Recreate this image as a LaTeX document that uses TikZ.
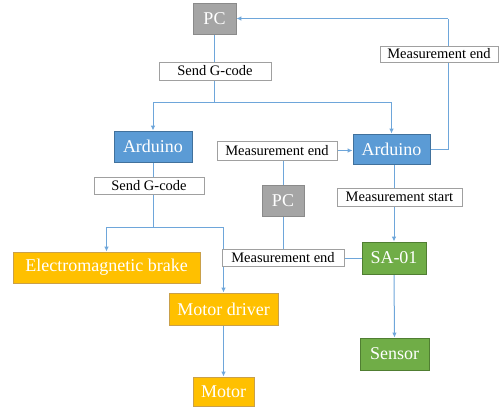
\documentclass[tikz,border=0pt]{standalone}
\usepackage{fontspec}
\setmainfont{Liberation Serif}
\usetikzlibrary{arrows.meta,backgrounds}
\definecolor{pcgray}{HTML}{A5A5A5}
\definecolor{pcborder}{HTML}{8A8A8A}
\definecolor{ardblue}{HTML}{5B9BD5}
\definecolor{ardborder}{HTML}{41719C}
\definecolor{orng}{HTML}{FFC000}
\definecolor{orngborder}{HTML}{C9A04A}
\definecolor{grn}{HTML}{70AD47}
\definecolor{grnborder}{HTML}{507E32}
\definecolor{linecol}{HTML}{6EA6DA}
\definecolor{lblborder}{HTML}{A0A0A0}
\tikzset{
  box/.style={draw, line width=0.8pt, inner sep=0pt, text=white, font=\rmfamily\fontsize{18}{20}\selectfont},
  pcbox/.style={box, fill=pcgray, draw=pcborder},
  ardbox/.style={box, fill=ardblue, draw=ardborder},
  orbox/.style={box, fill=orng, draw=orngborder},
  grbox/.style={box, fill=grn, draw=grnborder},
  lbl/.style={draw=lblborder, fill=white, line width=0.7pt, inner sep=0pt, text=black, font=\rmfamily\fontsize{14.5}{16}\selectfont},
  conn/.style={draw=linecol, line width=1pt},
  arr/.style={conn, -{Latex[length=5pt,width=4.5pt]}}
}
\begin{document}
\begin{tikzpicture}[x=1pt,y=1pt]
\useasboundingbox (0,0) rectangle (499,-408);
\node[pcbox, minimum width=43pt, minimum height=31pt] (pc1) at (214.5,-18.5) {PC};
\node[lbl, minimum width=112pt, minimum height=18pt] (lbl1) at (215,-71) {Send G-code};
\node[ardbox, minimum width=78pt, minimum height=31pt] (ard1) at (153,-146.5) {Arduino};
\node[ardbox, minimum width=77pt, minimum height=30pt] (ard2) at (391.5,-149) {Arduino};
\node[lbl, minimum width=118pt, minimum height=16pt] (lbl2) at (439,-54) {Measurement end};
\node[lbl, minimum width=120pt, minimum height=19pt] (lbl3) at (277,-150.5) {Measurement end};
\node[pcbox, minimum width=42pt, minimum height=31pt] (pc2) at (283,-200.5) {PC};
\node[lbl, minimum width=110pt, minimum height=17pt] (lbl4) at (149,-185.5) {Send G-code};
\node[orbox, minimum width=187pt, minimum height=31pt] (brake) at (106.5,-267.5) {Electromagnetic brake};
\node[orbox, minimum width=109pt, minimum height=32pt] (driver) at (223.5,-309) {Motor driver};
\node[orbox, minimum width=61pt, minimum height=29pt] (motor) at (223.5,-391.5) {Motor};
\node[lbl, minimum width=122pt, minimum height=17pt] (lbl5) at (283,-257.5) {Measurement end};
\node[lbl, minimum width=125pt, minimum height=18pt] (lbl6) at (399.5,-197) {Measurement start};
\node[grbox, minimum width=64pt, minimum height=32pt] (sa) at (394,-258) {SA-01};
\node[grbox, minimum width=69pt, minimum height=32pt] (sensor) at (394.5,-354) {Sensor};
\coordinate (j1) at (214.5,-102);
\coordinate (j2) at (153,-227);
\coordinate (k1) at (448,-149);
\coordinate (k2) at (448,-18.5);
\begin{scope}[on background layer]
\draw[conn] (pc1.south) -- (j1);
\draw[arr] (j1) -| (ard1.north);
\draw[arr] (j1) -| (ard2.north);
\draw[conn] (ard2.east) -- (k1) -- (k2);
\draw[arr] (k2) -- (pc1.east);
\draw[arr] (lbl3.east) -- (lbl3.east -| ard2.west);
\draw[conn] (pc2.north) -- (pc2.north |- lbl3.south);
\draw[conn] (pc2.south) -- (lbl5.north);
\draw[conn] (sa.west) -- (sa.west -| lbl5.east);
\draw[arr] (sa.north |- ard2.south) -- (sa.north);
\draw[arr] (sa.south) -- (sensor.north);
\draw[conn] (ard1.south) -- (j2);
\draw[arr] (j2) -| (brake.north);
\draw[arr] (j2) -| (driver.north);
\draw[arr] (driver.south) -- (motor.north);
\end{scope}
\end{tikzpicture}
\end{document}
